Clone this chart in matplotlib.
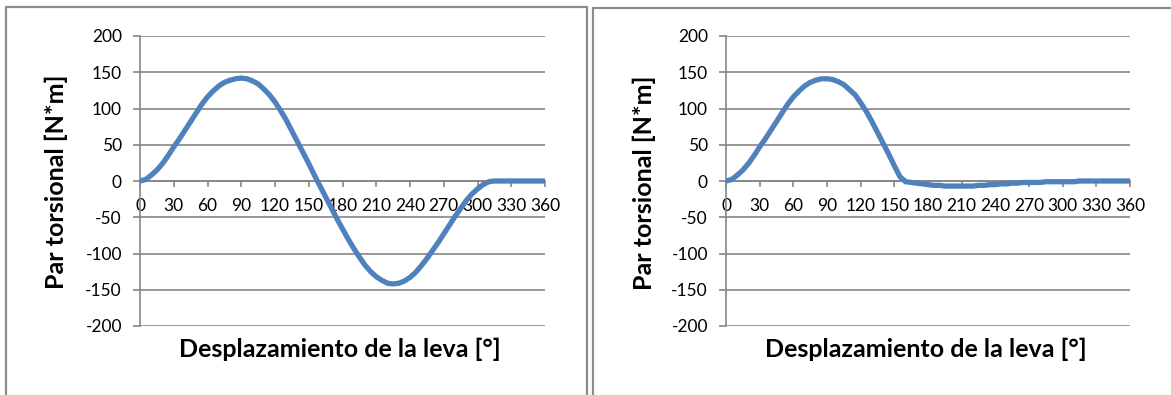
import matplotlib
matplotlib.use("Agg")
import matplotlib.pyplot as plt
from matplotlib.lines import Line2D

plt.rcParams['font.family'] = ['Lato', 'DejaVu Sans']
plt.rcParams['axes.unicode_minus'] = False

# Cam displacement in degrees
angle = list(range(0, 361, 5))

# Torque [N*m] - first case (full return lobe)
torque_a = [0, 2, 8, 15, 24, 35, 47, 58, 70, 82, 94, 106, 116, 124, 131, 136,
            139, 141, 142, 141, 138, 134, 127, 119, 109, 97, 84, 69, 54, 39,
            24, 8, -7, -22, -37, -52, -66, -80, -93, -105, -116, -125, -132,
            -137, -141, -142, -141, -138, -133, -126, -117, -107, -96, -85,
            -73, -61, -49, -38, -27, -18, -11, -5, -1, 0, 0, 0, 0, 0, 0, 0,
            0, 0, 0]

# Torque [N*m] - second case (damped return)
torque_b = [0, 2, 8, 15, 24, 35, 47, 58, 70, 82, 94, 106, 116, 124, 131, 136,
            139, 141, 141, 140, 137, 133, 126, 119, 108, 96, 82, 67, 52, 37,
            21, 6, -1, -2, -3, -4, -5, -6, -6, -7, -7, -7, -7, -7, -7, -6,
            -6, -5, -5, -4, -4, -3, -3, -2, -2, -2, -2, -1, -1, -1, -1, -1,
            -1, 0, 0, 0, 0, 0, 0, 0, 0, 0, 0]

x_ticks = list(range(0, 361, 30))
y_ticks = list(range(-200, 201, 50))
y_label = "Par torsional [N*m]"
x_label = "Desplazamiento de la leva [°]"

W, H = 1171, 395
fig = plt.figure(figsize=(W / 100, H / 100), dpi=100)

LINE = "#4F81BD"
GRID = "#868686"


def px(x0, y0, x1, y1):
    return [x0 / W, 1 - y1 / H, (x1 - x0) / W, (y1 - y0) / H]


def panel(rect, xs, ys, ylab_xy, xlab_xy):
    ax = fig.add_axes(rect)
    ax.plot(xs, ys, color=LINE, lw=3.8, solid_capstyle='round',
            solid_joinstyle='round', zorder=3)
    ax.set_xlim(0, 360)
    ax.set_ylim(-200, 200)
    ax.set_yticks(y_ticks)
    ax.set_xticks(x_ticks)
    ax.set_xticklabels([str(t) for t in x_ticks])
    ax.grid(axis='y', color=GRID, lw=1.2)
    ax.grid(axis='x', visible=False)
    ax.set_axisbelow(True)
    for s in ('top', 'right'):
        ax.spines[s].set_visible(False)
    ax.spines['left'].set_color(GRID)
    ax.spines['left'].set_linewidth(1.2)
    ax.spines['bottom'].set_position(('data', 0))
    ax.spines['bottom'].set_color(GRID)
    ax.spines['bottom'].set_linewidth(1.2)
    ax.tick_params(axis='y', direction='out', length=5, width=1.2,
                   color=GRID, labelsize=12.5, pad=8, labelcolor='black')
    ax.tick_params(axis='x', direction='out', length=4, width=1.2,
                   color=GRID, labelsize=12.5, pad=8, labelcolor='black')
    ax.set_ylabel(y_label, fontsize=18, fontweight='bold')
    ax.yaxis.label.set(ha='center', va='center', rotation_mode='default')
    ax.yaxis.set_label_coords(*ylab_xy)
    ax.set_xlabel(x_label, fontsize=18, fontweight='bold')
    ax.xaxis.label.set(ha='center', va='center')
    ax.xaxis.set_label_coords(*xlab_xy)
    return ax


# left panel
panel(px(140, 36, 545, 326), angle, torque_a,
      ((56 - 140) / 405, (326 - 182) / 290),
      ((340 - 140) / 405, (326 - 349) / 290))
# right panel
panel(px(726, 36, 1130, 326), angle, torque_b,
      ((644 - 726) / 404, (326 - 183) / 290),
      ((926 - 726) / 404, (326 - 349) / 290))

# chart frames
FRAME = "#8c8c8c"


def fline(xs, ys):
    fig.add_artist(Line2D([x / W for x in xs], [1 - y / H for y in ys],
                          color=FRAME, lw=1.6, transform=fig.transFigure))


fline([6, 6, 587, 587], [400, 7, 7, 400])
fline([593, 593, 1175], [400, 8, 8])

fig.savefig("out.png", dpi=100)
